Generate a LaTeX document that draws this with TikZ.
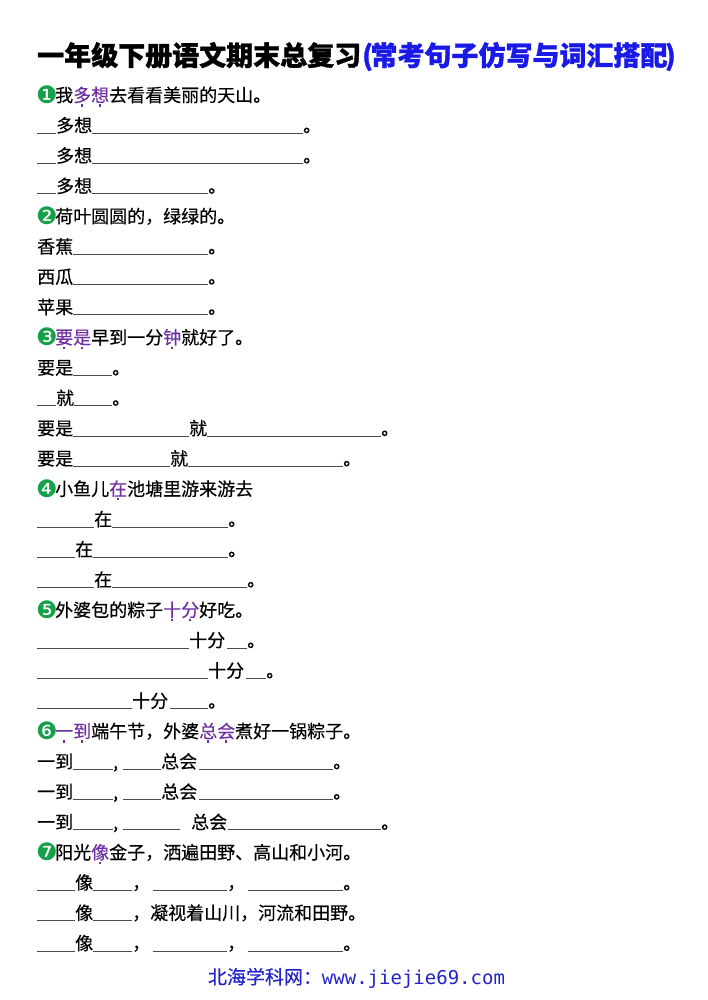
\documentclass[tikz,border=0pt]{standalone}
\usepackage{fontspec}
\setmainfont{Noto Sans CJK SC}[FakeBold=0.3, BoldFeatures={FakeBold=1.2}]
\newfontfamily\dingfont{DejaVu Sans}
\newfontfamily\urlfont{DejaVu Sans Mono}
\usepackage{xcolor}

\definecolor{titleblue}{HTML}{1A1AE6}
\definecolor{keypurple}{HTML}{7030A0}
\definecolor{numgreen}{HTML}{17A04A}
\definecolor{footblue}{HTML}{2323C8}
\definecolor{linegray}{HTML}{4A4A4A}

\newcommand\blank[1]{{\color{linegray}\rule[-1.5pt]{#1pt}{0.8pt}}}
\newcommand\qnum[1]{\makebox[18pt][l]{\kern-1pt\raisebox{-1.8pt}{\fontsize{24pt}{24pt}\dingfont\color{numgreen}#1}}}
\newcommand\zd[1]{\makebox[0pt][l]{\makebox[18pt]{\raisebox{-4.8pt}{\rule{2.2pt}{2.2pt}}}}#1}
\newcommand\key[1]{{\color{keypurple}#1}}

\tikzset{
  row/.style={anchor=base west, inner sep=0pt, font=\fontsize{18pt}{18pt}\selectfont},
  headline/.style={anchor=base west, inner sep=0pt, font=\fontsize{27pt}{27pt}\bfseries\selectfont},
}

\begin{document}
\begin{tikzpicture}[x=1pt,y=1pt]
    \useasboundingbox (0,0) rectangle (707,1000);

    \node[headline] (title) at (37,934.5)
        {一年级下册语文期末总复习{\color{titleblue}\kern1pt(\kern-2.5pt 常考句子仿写与词汇搭配\kern-2.5pt)}};

    % 1
    \node[row] (q1)  at (37,898.2) {\qnum{❶}我\key{\zd{多}\zd{想}}去看看美丽的天山。};
    \node[row] (q1a) at (37,867.9) {\blank{19}多想\blank{211}。};
    \node[row] (q1b) at (37,837.6) {\blank{19}多想\blank{211}。};
    \node[row] (q1c) at (37,807.3) {\blank{19}多想\blank{116}。};

    % 2
    \node[row] (q2)  at (37,777.0) {\qnum{❷}荷叶圆圆的，绿绿的。};
    \node[row] (q2a) at (37,746.7) {香蕉\blank{135}。};
    \node[row] (q2b) at (37,716.5) {西瓜\blank{135}。};
    \node[row] (q2c) at (37,686.2) {苹果\blank{135}。};

    % 3
    \node[row] (q3)  at (37,655.9) {\qnum{❸}\key{\zd{要}\zd{是}}早到一分\key{\zd{钟}}就好了。};
    \node[row] (q3a) at (37,625.6) {要是\blank{39}。};
    \node[row] (q3b) at (37,595.3) {\blank{19}就\blank{38}。};
    \node[row] (q3c) at (37,565.0) {要是\blank{116}就\blank{174}。};
    \node[row] (q3d) at (37,534.7) {要是\blank{97}就\blank{155}。};

    % 4
    \node[row] (q4)  at (37,504.4) {\qnum{❹}小鱼儿\key{\zd{在}}池塘里游来游去};
    \node[row] (q4a) at (37,474.1) {\blank{57}在\blank{116}。};
    \node[row] (q4b) at (37,443.9) {\blank{38}在\blank{135}。};
    \node[row] (q4c) at (37,413.6) {\blank{57}在\blank{135}。};

    % 5
    \node[row] (q5)  at (37,383.3) {\qnum{❺}外婆包的粽子\key{\zd{十}\zd{分}}好吃。};
    \node[row] (q5a) at (37,353.0) {\blank{152}十分\hspace{2pt}\blank{20}。};
    \node[row] (q5b) at (37,322.7) {\blank{171}十分\hspace{2pt}\blank{20}。};
    \node[row] (q5c) at (37,292.4) {\blank{95}十分\hspace{2pt}\blank{38}。};

    % 6
    \node[row] (q6)  at (37,262.1) {\qnum{❻}\key{\zd{一}\zd{到}}端午节，外婆\key{\zd{总}\zd{会}}煮好一锅粽子。};
    \node[row] (q6a) at (37,231.8) {一到\blank{40}\makebox[10pt][l]{,}\blank{38}总会\hspace{2pt}\blank{134}。};
    \node[row] (q6b) at (37,201.5) {一到\blank{40}\makebox[10pt][l]{,}\blank{38}总会\hspace{2pt}\blank{134}。};
    \node[row] (q6c) at (37,171.2) {一到\blank{40}\makebox[10pt][l]{,}\blank{57}\hspace{11pt}总会\hspace{1pt}\blank{153}。};

    % 7
    \node[row] (q7)  at (37,140.9) {\qnum{❼}阳光\key{\zd{像}}金子，洒遍田野、高山和小河。};
    \node[row] (q7a) at (37,110.7) {\blank{38}像\blank{39}，\hspace{3pt}\blank{74}，\hspace{3pt}\blank{95}。};
    \node[row] (q7b) at (37,80.4)  {\blank{38}像\blank{39}，凝视着山川，河流和田野。};
    \node[row] (q7c) at (37,50.1)  {\blank{38}像\blank{39}，\hspace{3pt}\blank{74}，\hspace{3pt}\blank{95}。};

    \node[anchor=base, inner sep=0pt, font=\fontsize{19pt}{19pt}\selectfont, text=footblue] (foot) at (356.5,16)
        {北海学科网：{\urlfont www.jiejie69.com}};
\end{tikzpicture}
\end{document}
